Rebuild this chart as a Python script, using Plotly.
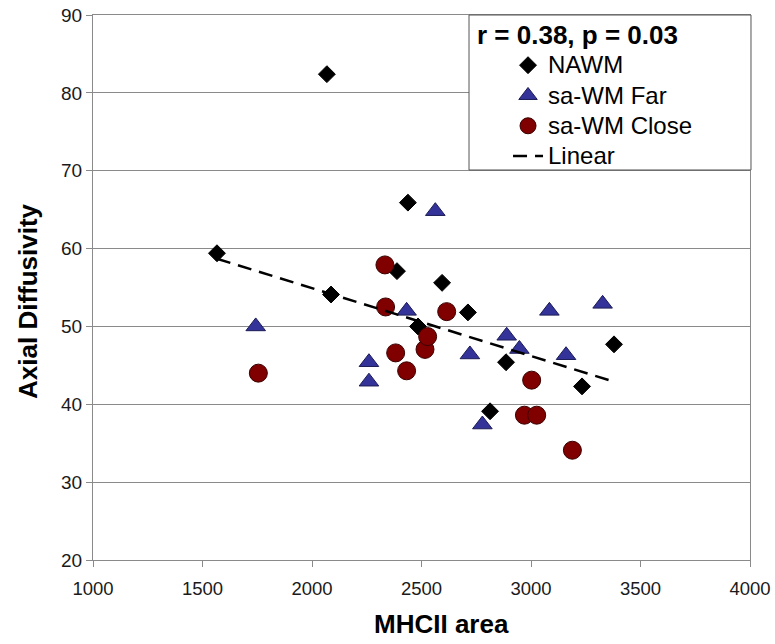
import plotly.graph_objects as go

# ---- data ----
nawm_x = [1566, 2068, 2087, 2388, 2438, 2484, 2594, 2712, 2813, 2886, 3233, 3379]
nawm_y = [59.4, 82.4, 54.1, 57.1, 65.9, 50.0, 55.6, 51.8, 39.1, 45.4, 42.3, 47.7]

far_x = [1743, 2260, 2260, 2432, 2563, 2721, 2778, 2889, 2947, 3084, 3160, 3327]
far_y = [50.0, 45.4, 42.9, 52.0, 64.8, 46.4, 37.4, 48.8, 47.1, 52.0, 46.3, 52.9]

close_x = [1755, 2333, 2336, 2382, 2432, 2516, 2528, 2615, 2970, 3003, 3026, 3189]
close_y = [44.0, 57.9, 52.5, 46.6, 44.3, 47.05, 48.7, 51.9, 38.6, 43.1, 38.6, 34.1]

trend_x = [1566, 3379]
trend_y = [58.7, 42.9]

x_ticks = [1000, 1500, 2000, 2500, 3000, 3500, 4000]
y_ticks = [20, 30, 40, 50, 60, 70, 80, 90]

stat_text = "r = 0.38, p = 0.03"
x_title = "MHCII area"
y_title = "Axial Diffusivity"

FONT = "Liberation Sans, Arial, sans-serif"
GRID = "#8a8a8a"


def leg(name):
    return '<span style="font-size:24px">' + name + '</span>'


fig = go.Figure()
fig.add_trace(go.Scatter(
    x=nawm_x, y=nawm_y, mode="markers", name=leg("NAWM"),
    marker=dict(symbol="diamond", size=13, color="black",
                line=dict(color="black", width=1))))
fig.add_trace(go.Scatter(
    x=far_x, y=far_y, mode="markers", name=leg("sa-WM Far"),
    marker=dict(symbol="triangle-up", size=17, color="#333399",
                line=dict(color="#1c1c55", width=1))))
fig.add_trace(go.Scatter(
    x=close_x, y=close_y, mode="markers", name=leg("sa-WM Close"),
    marker=dict(symbol="circle", size=18, color="#800000",
                line=dict(color="#3a0000", width=1))))
fig.add_trace(go.Scatter(
    x=trend_x, y=trend_y, mode="lines", name=leg("Linear"),
    line=dict(color="black", width=2.5, dash="14px,8px")))

fig.update_layout(
    width=775, height=644,
    margin=dict(l=93, r=25, t=15, b=84, autoexpand=False),
    paper_bgcolor="white", plot_bgcolor="white",
    font=dict(family=FONT, color="#1a1a1a"),
    showlegend=True,
    legend=dict(x=0.6317, xanchor="left", y=0.9449, yanchor="top",
                bgcolor="rgba(0,0,0,0)", borderwidth=0,
                font=dict(family=FONT, size=21, color="black"),
                itemwidth=30, tracegroupgap=0),
    xaxis=dict(range=[1000, 4000], tickvals=x_ticks, showgrid=False,
               automargin=False, ticklabeloverflow="allow",
               ticklabelstandoff=6,
               showline=True, linecolor=GRID, linewidth=1, mirror=True,
               ticks="outside", ticklen=6, tickcolor=GRID,
               tickfont=dict(family=FONT, size=18.5, color="#1a1a1a"),
               zeroline=False),
    yaxis=dict(range=[20, 90], tickvals=y_ticks, showgrid=True,
               automargin=False, ticklabeloverflow="allow",
               gridcolor=GRID, gridwidth=1,
               showline=True, linecolor=GRID, linewidth=1, mirror=True,
               ticks="outside", ticklen=6, tickcolor=GRID,
               tickfont=dict(family=FONT, size=19, color="#1a1a1a"),
               zeroline=False),
    shapes=[dict(type="rect", xref="paper", yref="paper",
                 x0=0.5723, x1=1.0015, y0=0.7156, y1=1.0,
                 line=dict(color="#555555", width=1),
                 fillcolor="white", layer="above")],
    annotations=[
        dict(text="<b>" + stat_text + "</b>", xref="paper", yref="paper",
             x=0.5814, y=0.9633, xanchor="left", yanchor="middle",
             showarrow=False, font=dict(family=FONT, size=26, color="black")),
        dict(text="<b>" + x_title + "</b>", xref="paper", yref="paper",
             x=0.5297, y=-0.1174, xanchor="center", yanchor="middle",
             showarrow=False, font=dict(family=FONT, size=26, color="black")),
        dict(text="<b>" + y_title + "</b>", xref="paper", yref="paper",
             x=-0.099, y=0.4752, xanchor="center", yanchor="middle",
             textangle=-90,
             showarrow=False, font=dict(family=FONT, size=26, color="black")),
    ],
)

fig.write_html("out.html",
               config={"displayModeBar": False, "staticPlot": False},
               post_script="document.body.style.margin='0';"
                           "document.body.style.overflow='hidden';")
